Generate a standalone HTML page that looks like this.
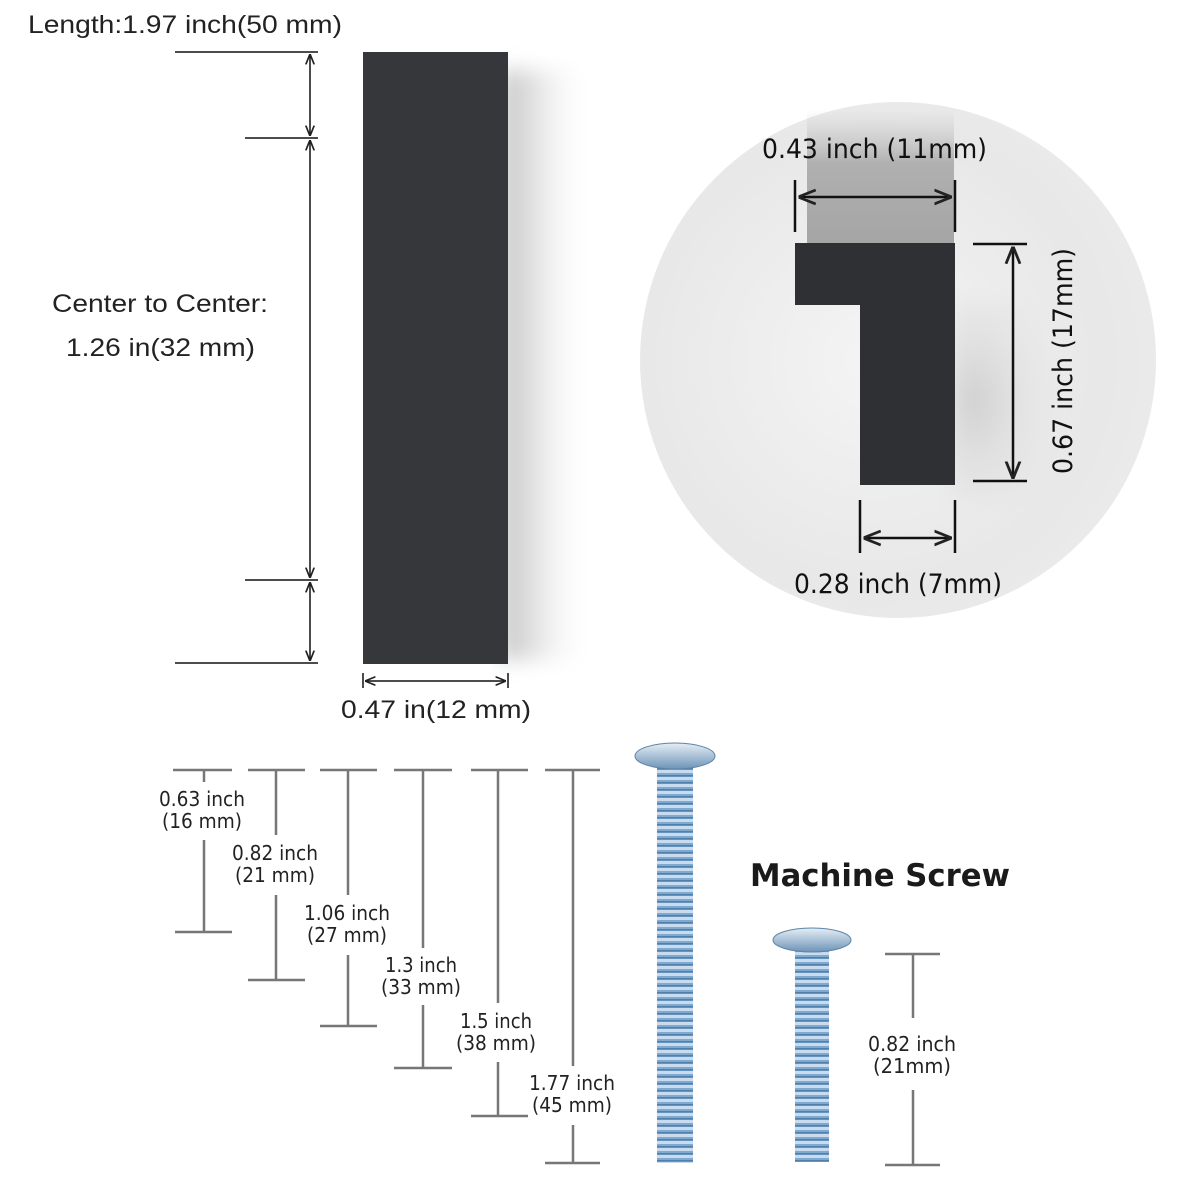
<!DOCTYPE html>
<html><head><meta charset="utf-8"><style>
body{margin:0;background:#fff;}
svg{display:block;}
</style></head><body>
<svg width="1181" height="1181" viewBox="0 0 1181 1181" xmlns="http://www.w3.org/2000/svg">
<defs>
<radialGradient id="cg" cx="0.45" cy="0.5" r="0.55">
<stop offset="0" stop-color="#f4f4f4"/><stop offset="0.8" stop-color="#e8e8e8"/><stop offset="1" stop-color="#eaeaea"/></radialGradient>
<linearGradient id="sh" x1="0" x2="1"><stop offset="0" stop-color="#c4c4c4"/><stop offset="0.4" stop-color="#e4e4e4"/><stop offset="1" stop-color="#fff" stop-opacity="0"/></linearGradient>
<linearGradient id="gt" x1="0" y1="0" x2="0" y2="1"><stop offset="0" stop-color="#c8c8c8" stop-opacity="0"/><stop offset="0.4" stop-color="#b0b0b0"/><stop offset="1" stop-color="#a5a5a5"/></linearGradient>
<radialGradient id="ks" cx="0.2" cy="0.5" r="0.8"><stop offset="0" stop-color="#cfcfcf"/><stop offset="1" stop-color="#e8e8e8" stop-opacity="0"/></radialGradient>
<filter id="bl"><feGaussianBlur stdDeviation="10"/></filter>
<pattern id="thr" width="8" height="7" patternUnits="userSpaceOnUse">
<rect width="8" height="7" fill="#7fa9cf"/><rect y="0" width="8" height="3" fill="#c9dcef"/><rect y="5" width="8" height="1.5" fill="#4f7fab"/></pattern>
<linearGradient id="hd" x1="0" y1="0" x2="0" y2="1"><stop offset="0" stop-color="#e6eef5"/><stop offset="1" stop-color="#6e94b8"/></linearGradient>
<marker id="ar" viewBox="0 0 10 10" refX="9" refY="5" markerWidth="7" markerHeight="7" orient="auto-start-reverse"><path d="M0,1 L10,5 L0,9" fill="none" stroke="#222" stroke-width="1.6"/></marker>
</defs>
<!-- bar shadow -->
<rect x="500" y="70" width="90" height="590" fill="url(#sh)" filter="url(#bl)"/>
<rect x="363" y="52" width="145" height="612" fill="#36373b"/>
<!-- circle -->
<circle cx="898" cy="360" r="258" fill="url(#cg)"/>
<rect x="950" y="300" width="120" height="200" fill="url(#ks)" filter="url(#bl)"/>
<rect x="807" y="110" width="147" height="133" fill="url(#gt)"/>
<path d="M795 243 H955 V485 H860 V305 H795 Z" fill="#2f3033"/>
<!-- circle dims -->
<g stroke="#111" stroke-width="2.5" fill="none">
<line x1="795" y1="180" x2="795" y2="232"/><line x1="955" y1="180" x2="955" y2="232"/>
<line x1="800" y1="197" x2="950" y2="197" marker-start="url(#ar)" marker-end="url(#ar)"/>
<line x1="973" y1="244" x2="1027" y2="244"/><line x1="973" y1="481" x2="1027" y2="481"/>
<line x1="1013" y1="248" x2="1013" y2="477" marker-start="url(#ar)" marker-end="url(#ar)"/>
<line x1="860" y1="500" x2="860" y2="553"/><line x1="955" y1="500" x2="955" y2="553"/>
<line x1="865" y1="538" x2="950" y2="538" marker-start="url(#ar)" marker-end="url(#ar)"/>
</g>
<g font-family="DejaVu Sans Condensed, DejaVu Sans, sans-serif" fill="#111" font-size="27">
<text x="762" y="158" textLength="225" lengthAdjust="spacingAndGlyphs">0.43 inch (11mm)</text>
<text x="794" y="593" textLength="208" lengthAdjust="spacingAndGlyphs">0.28 inch (7mm)</text>
<text transform="translate(1072,474) rotate(-90)" textLength="226" lengthAdjust="spacingAndGlyphs">0.67 inch (17mm)</text>
</g>
<!-- bar dims -->
<g stroke="#111" stroke-width="1.5" fill="none">
<line x1="175" y1="52" x2="318" y2="52"/><line x1="175" y1="663" x2="318" y2="663"/>
<line x1="245" y1="138" x2="318" y2="138"/><line x1="245" y1="580" x2="318" y2="580"/>
<line x1="310" y1="55" x2="310" y2="135" marker-start="url(#ar)" marker-end="url(#ar)"/>
<line x1="310" y1="141" x2="310" y2="577" marker-start="url(#ar)" marker-end="url(#ar)"/>
<line x1="310" y1="583" x2="310" y2="660" marker-start="url(#ar)" marker-end="url(#ar)"/>
<line x1="363" y1="673" x2="363" y2="688"/><line x1="508" y1="673" x2="508" y2="688"/>
<line x1="366" y1="681" x2="505" y2="681" marker-start="url(#ar)" marker-end="url(#ar)"/>
</g>
<g font-family="Liberation Sans, sans-serif" fill="#222" font-size="25">
<text x="28" y="33" textLength="314" lengthAdjust="spacingAndGlyphs">Length:1.97 inch(50 mm)</text>
<text x="52" y="312" textLength="216" lengthAdjust="spacingAndGlyphs">Center to Center:</text>
<text x="66" y="356" textLength="189" lengthAdjust="spacingAndGlyphs">1.26 in(32 mm)</text>
<text x="341" y="718" textLength="190" lengthAdjust="spacingAndGlyphs">0.47 in(12 mm)</text>
</g>
<!-- rulers -->
<g stroke="#777" stroke-width="2.5" fill="none">
<line x1="173" y1="770" x2="232" y2="770"/><line x1="248" y1="770" x2="305" y2="770"/><line x1="320" y1="770" x2="377" y2="770"/><line x1="394" y1="770" x2="452" y2="770"/><line x1="471" y1="770" x2="528" y2="770"/><line x1="545" y1="770" x2="600" y2="770"/>
<line x1="204" y1="770" x2="204" y2="782"/><line x1="204" y1="840" x2="204" y2="932"/><line x1="175" y1="932" x2="232" y2="932"/>
<line x1="276" y1="770" x2="276" y2="835"/><line x1="276" y1="895" x2="276" y2="980"/><line x1="248" y1="980" x2="305" y2="980"/>
<line x1="348" y1="770" x2="348" y2="895"/><line x1="348" y1="955" x2="348" y2="1026"/><line x1="320" y1="1026" x2="377" y2="1026"/>
<line x1="423" y1="770" x2="423" y2="948"/><line x1="423" y1="1005" x2="423" y2="1068"/><line x1="394" y1="1068" x2="452" y2="1068"/>
<line x1="498" y1="770" x2="498" y2="1003"/><line x1="498" y1="1062" x2="498" y2="1116"/><line x1="471" y1="1116" x2="528" y2="1116"/>
<line x1="573" y1="770" x2="573" y2="1066"/><line x1="573" y1="1125" x2="573" y2="1163"/><line x1="545" y1="1163" x2="600" y2="1163"/>
<line x1="885" y1="954" x2="940" y2="954"/><line x1="913" y1="954" x2="913" y2="1018"/><line x1="913" y1="1090" x2="913" y2="1165"/><line x1="885" y1="1165" x2="940" y2="1165"/>
</g>
<g font-family="DejaVu Sans Condensed, DejaVu Sans, sans-serif" fill="#222" font-size="20" text-anchor="middle">
<text x="202" y="806" textLength="86" lengthAdjust="spacingAndGlyphs">0.63 inch</text><text x="202" y="828" textLength="80" lengthAdjust="spacingAndGlyphs">(16 mm)</text>
<text x="275" y="860" textLength="86" lengthAdjust="spacingAndGlyphs">0.82 inch</text><text x="275" y="882" textLength="80" lengthAdjust="spacingAndGlyphs">(21 mm)</text>
<text x="347" y="920" textLength="86" lengthAdjust="spacingAndGlyphs">1.06 inch</text><text x="347" y="942" textLength="80" lengthAdjust="spacingAndGlyphs">(27 mm)</text>
<text x="421" y="972" textLength="72" lengthAdjust="spacingAndGlyphs">1.3 inch</text><text x="421" y="994" textLength="80" lengthAdjust="spacingAndGlyphs">(33 mm)</text>
<text x="496" y="1028" textLength="72" lengthAdjust="spacingAndGlyphs">1.5 inch</text><text x="496" y="1050" textLength="80" lengthAdjust="spacingAndGlyphs">(38 mm)</text>
<text x="572" y="1090" textLength="86" lengthAdjust="spacingAndGlyphs">1.77 inch</text><text x="572" y="1112" textLength="80" lengthAdjust="spacingAndGlyphs">(45 mm)</text>
<text x="912" y="1051" textLength="88" lengthAdjust="spacingAndGlyphs">0.82 inch</text><text x="912" y="1073" textLength="78" lengthAdjust="spacingAndGlyphs">(21mm)</text>
</g>
<text x="750" y="886" font-family="DejaVu Sans, sans-serif" font-weight="bold" font-size="31" fill="#1a1a1a" textLength="260" lengthAdjust="spacingAndGlyphs">Machine Screw</text>
<!-- screws -->
<rect x="657" y="765" width="36" height="398" fill="url(#thr)"/>
<ellipse cx="675" cy="756" rx="40" ry="13" fill="url(#hd)" stroke="#5d84a8" stroke-width="1"/>
<rect x="795" y="950" width="34" height="212" fill="url(#thr)"/>
<ellipse cx="812" cy="940" rx="39" ry="12" fill="url(#hd)" stroke="#5d84a8" stroke-width="1"/>
</svg>
</body></html>
